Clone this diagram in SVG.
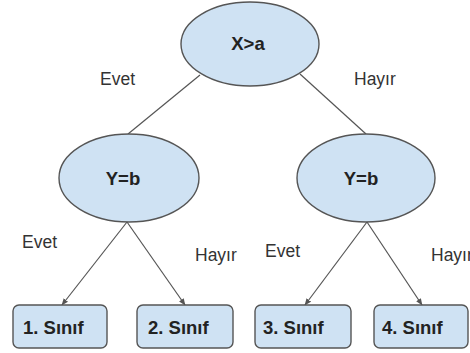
<svg xmlns="http://www.w3.org/2000/svg" width="470" height="353" viewBox="0 0 470 353">
<defs>
<marker id="arr" viewBox="0 0 10 10" refX="9" refY="5" markerWidth="7" markerHeight="7" orient="auto" markerUnits="userSpaceOnUse">
<path d="M0,1 L10,5 L0,9 z" fill="#555"/>
</marker>
<style>
.node{fill:#cfe2f3;stroke:#555;stroke-width:1.4}
.nt{font-family:"Liberation Sans",Arial,sans-serif;font-weight:bold;font-size:18.5px;fill:#222}
.lbl{font-family:"Liberation Sans",Arial,sans-serif;font-size:17.5px;fill:#333}
.edge{stroke:#555;stroke-width:1.2;fill:none}
</style>
</defs>
<rect width="470" height="353" fill="#fff"/>
<g id="edges">
<line class="edge" x1="200" y1="75" x2="128" y2="134"/>
<line class="edge" x1="300" y1="74" x2="366" y2="134"/>
<line class="edge" x1="127" y1="222" x2="62" y2="305" marker-end="url(#arr)"/>
<line class="edge" x1="127" y1="222" x2="185" y2="305" marker-end="url(#arr)"/>
<line class="edge" x1="367" y1="222" x2="305" y2="305" marker-end="url(#arr)"/>
<line class="edge" x1="367" y1="222" x2="422" y2="305" marker-end="url(#arr)"/>
</g>
<g id="labels">
<text class="lbl" x="100" y="85">Evet</text>
<text class="lbl" x="354" y="85">Hayır</text>
<text class="lbl" x="22" y="248">Evet</text>
<text class="lbl" x="195" y="261">Hayır</text>
<text class="lbl" x="265" y="257">Evet</text>
<text class="lbl" x="431" y="261">Hayır</text>
</g>
<g id="n-root">
<ellipse class="node" cx="250" cy="44" rx="69" ry="42"/>
<text class="nt" x="248" y="50" text-anchor="middle">X&gt;a</text>
</g>
<g id="n-left">
<ellipse class="node" cx="129" cy="178" rx="70" ry="44"/>
<text class="nt" x="123" y="185" text-anchor="middle">Y=b</text>
</g>
<g id="n-right">
<ellipse class="node" cx="366" cy="178" rx="69" ry="44"/>
<text class="nt" x="361" y="185" text-anchor="middle">Y=b</text>
</g>
<g id="n-c1">
<rect class="node" x="13" y="305" width="94" height="43" rx="6"/>
<text class="nt" x="23" y="334">1. Sınıf</text>
</g>
<g id="n-c2">
<rect class="node" x="137" y="305" width="96" height="43" rx="6"/>
<text class="nt" x="148" y="334">2. Sınıf</text>
</g>
<g id="n-c3">
<rect class="node" x="255" y="305" width="96" height="43" rx="6"/>
<text class="nt" x="263" y="334">3. Sınıf</text>
</g>
<g id="n-c4">
<rect class="node" x="374" y="305" width="94" height="43" rx="6"/>
<text class="nt" x="382" y="334">4. Sınıf</text>
</g>
</svg>
